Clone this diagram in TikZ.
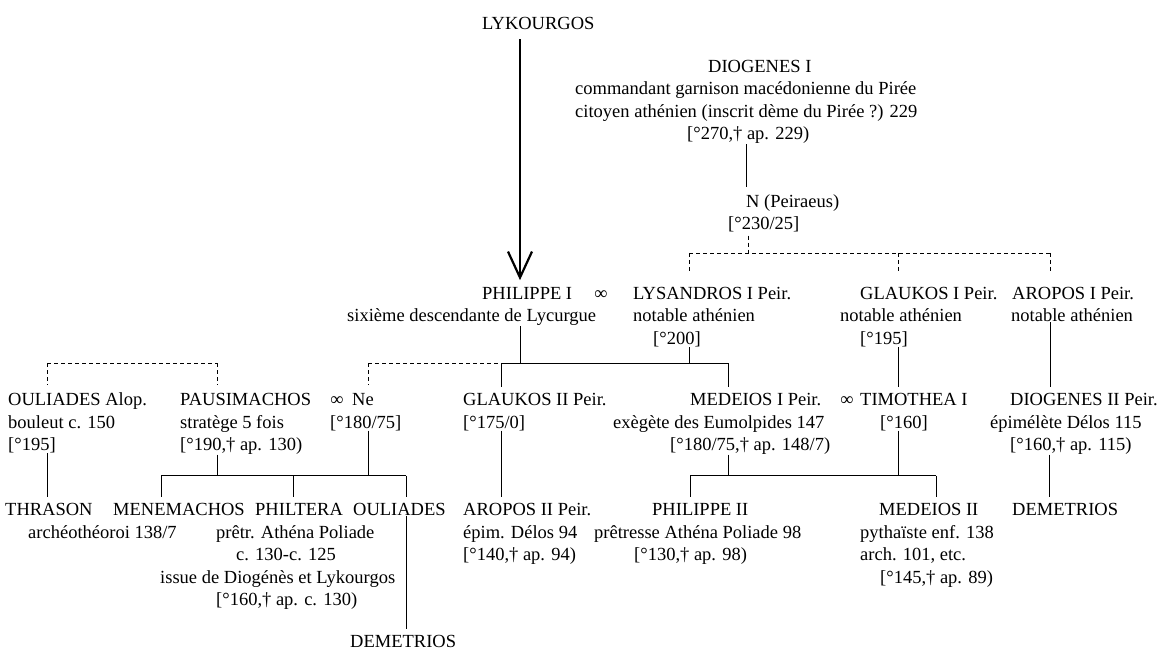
\documentclass[tikz,border=0pt]{standalone}
\usepackage{fontspec}
\setmainfont{Liberation Serif}
\usetikzlibrary{arrows.meta}
\begin{document}
\begin{tikzpicture}[x=1pt,y=-1pt,
  txt/.style={inner sep=0pt, anchor=base west, font=\fontsize{18.5}{22.5}\selectfont},
  lnk/.style={line width=0.9pt},
  dlnk/.style={line width=0.9pt, dash pattern=on 4pt off 3pt},
  down/.style={shorten >=6pt},
  bigarrow/.style={line width=2.6pt, -{Straight Barb[length=26pt,width=24pt,line width=2.2pt]}}
]
\useasboundingbox (0,0) rectangle (1159,652);
% axes and bars
\coordinate (axPh) at (520,0);
\coordinate (axN) at (746,0);
\coordinate (axNt) at (748,0);
\coordinate (axLy) at (689,0);
\coordinate (axGl) at (898,0);
\coordinate (axAr) at (1050,0);
\coordinate (axOu) at (47,0);
\coordinate (axPa) at (217,0);
\coordinate (axNe) at (368,0);
\coordinate (axGt) at (501,0);
\coordinate (axMe) at (728,0);
\coordinate (axTi) at (898,0);
\coordinate (axDt) at (1049,0);
\coordinate (axMn) at (161,0);
\coordinate (axPf) at (293,0);
\coordinate (axOl) at (406,0);
\coordinate (axPs) at (690,0);
\coordinate (axMs) at (936,0);
\coordinate (barTop) at (0,253);
\coordinate (barMid) at (0,363);
\coordinate (barLow) at (0,475.5);
% top
\node[txt] (lyk) at (482,29.5) {LYKOURGOS};
\node[txt] (dgA) at (708,72.5) {DIOGENES I};
\node[txt] (dgB) at (575,95) {commandant garnison macédonienne du Pirée};
\node[txt] (dgC) at (575,117.5) {citoyen athénien (inscrit dème du Pirée ?) 229};
\node[txt] (dgD) at (687,140) {[°270,† ap. 229)};
\node[txt] (nA) at (746,207.5) {N (Peiraeus)};
\node[txt] (nB) at (728,230) {[°230/25]};
% row 2
\node[txt] (phA) at (482,299.5) {PHILIPPE I};
\node[txt] (phB) at (347,322) {sixième descendante de Lycurgue};
\node[txt,anchor=base] (mar1) at (601,299.5) {∞};
\node[txt] (lyA) at (633,299.5) {LYSANDROS I Peir.};
\node[txt] (lyB) at (633,322) {notable athénien};
\node[txt] (lyC) at (653,344.5) {[°200]};
\node[txt] (glA) at (860,299.5) {GLAUKOS I Peir.};
\node[txt] (glB) at (840,322) {notable athénien};
\node[txt] (glC) at (860,344.5) {[°195]};
\node[txt] (arA) at (1012,299.5) {AROPOS I Peir.};
\node[txt] (arB) at (1011,322) {notable athénien};
% row 3
\node[txt] (ouA) at (8,405.5) {OULIADES Alop.};
\node[txt] (ouB) at (8,428) {bouleut c. 150};
\node[txt] (ouC) at (8,450.5) {[°195]};
\node[txt] (paA) at (180,405.5) {PAUSIMACHOS};
\node[txt] (paB) at (180,428) {stratège 5 fois};
\node[txt] (paC) at (180,450.5) {[°190,† ap. 130)};
\node[txt,anchor=base] (mar2) at (337,405.5) {∞};
\node[txt] (neA) at (352,405.5) {Ne};
\node[txt] (neB) at (330,428) {[°180/75]};
\node[txt] (gtA) at (463,405.5) {GLAUKOS II Peir.};
\node[txt] (gtB) at (463,428) {[°175/0]};
\node[txt] (meA) at (690,405.5) {MEDEIOS I Peir.};
\node[txt] (meB) at (613,428) {exègète des Eumolpides 147};
\node[txt] (meC) at (670,450.5) {[°180/75,† ap. 148/7)};
\node[txt,anchor=base] (mar3) at (847,405.5) {∞};
\node[txt] (tiA) at (860,405.5) {TIMOTHEA I};
\node[txt] (tiB) at (880,428) {[°160]};
\node[txt] (dtA) at (1010,405.5) {DIOGENES II Peir.};
\node[txt] (dtB) at (990,428) {épimélète Délos 115};
\node[txt] (dtC) at (1010,450.5) {[°160,† ap. 115)};
% row 4
\node[txt] (thA) at (5,515.5) {THRASON};
\node[txt] (thB) at (28,538) {archéothéoroi 138/7};
\node[txt] (mn) at (113,515.5) {MENEMACHOS};
\node[txt] (pfA) at (255,515.5) {PHILTERA};
\node[txt] (pfB) at (216,538) {prêtr. Athéna Poliade};
\node[txt] (pfC) at (236,560.5) {c. 130-c. 125};
\node[txt] (pfD) at (160,583) {issue de Diogénès et Lykourgos};
\node[txt] (pfE) at (216,605.5) {[°160,† ap. c. 130)};
\node[txt] (ol) at (353,515.5) {OULIADES};
\node[txt] (dmA) at (350,647) {DEMETRIOS};
\node[txt] (atA) at (463,515.5) {AROPOS II Peir.};
\node[txt] (atB) at (463,538) {épim. Délos 94};
\node[txt] (atC) at (463,560.5) {[°140,† ap. 94)};
\node[txt] (psA) at (652,515.5) {PHILIPPE II};
\node[txt] (psB) at (594,538) {prêtresse Athéna Poliade 98};
\node[txt] (psC) at (634,560.5) {[°130,† ap. 98)};
\node[txt] (msA) at (879,515.5) {MEDEIOS II};
\node[txt] (msB) at (860,538) {pythaïste enf. 138};
\node[txt] (msC) at (860,560.5) {arch. 101, etc.};
\node[txt] (msD) at (880,583) {[°145,† ap. 89)};
\node[txt] (dmB) at (1012,515.5) {DEMETRIOS};
% connectors
\draw[bigarrow, shorten <=9.5pt, shorten >=7pt] (lyk.south -| axPh) -- (phA.north -| axPh);
\draw[lnk, shorten >=7pt] (dgD.south -| axN) -- (nA.north -| axN);
\draw[dlnk, shorten <=3pt] (nB.south -| axNt) -- (axNt |- barTop);
\draw[dlnk] (axLy |- barTop) -- (axAr |- barTop);
\draw[dlnk, shorten >=15pt] (axLy |- barTop) -- (lyA.north -| axLy);
\draw[dlnk, shorten >=15pt] (axGl |- barTop) -- (glA.north -| axGl);
\draw[dlnk, shorten >=15pt] (axAr |- barTop) -- (arA.north -| axAr);
% row 2 to row 3
\draw[lnk] (phB.south -| axPh) -- (axPh |- barMid);
\draw[lnk] (lyC.south -| axLy) -- (axLy |- barMid);
\draw[lnk] (axGt |- barMid) -- (axMe |- barMid);
\draw[dlnk] (axNe |- barMid) -- (axGt |- barMid);
\draw[lnk, down] (axGt |- barMid) -- (gtA.north -| axGt);
\draw[lnk, down] (axMe |- barMid) -- (meA.north -| axMe);
\draw[dlnk, shorten >=8pt] (axNe |- barMid) -- (neA.north -| axNe);
\draw[dlnk] (axOu |- barMid) -- (axPa |- barMid);
\draw[dlnk, shorten >=8pt] (axOu |- barMid) -- (ouA.north -| axOu);
\draw[dlnk, shorten >=8pt] (axPa |- barMid) -- (paA.north -| axPa);
\draw[lnk, down] (glC.south -| axGl) -- (tiA.north -| axGl);
\draw[lnk, down] (arB.south -| axAr) -- (dtA.north -| axAr);
% row 3 to row 4
\draw[lnk, down] (ouC.south -| axOu) -- (thA.north -| axOu);
\draw[lnk] (paC.south -| axPa) -- (axPa |- barLow);
\draw[lnk] (neB.south -| axNe) -- (axNe |- barLow);
\draw[lnk] (axMn |- barLow) -- (axOl |- barLow);
\draw[lnk, down] (axMn |- barLow) -- (mn.north -| axMn);
\draw[lnk, down] (axPf |- barLow) -- (pfA.north -| axPf);
\draw[lnk, down] (axOl |- barLow) -- (ol.north -| axOl);
\draw[lnk, down] (ol.south -| axOl) -- (dmA.north -| axOl);
\draw[lnk, down] (gtB.south -| axGt) -- (atA.north -| axGt);
\draw[lnk] (meC.south -| axMe) -- (axMe |- barLow);
\draw[lnk] (tiB.south -| axTi) -- (axTi |- barLow);
\draw[lnk] (axPs |- barLow) -- (axMs |- barLow);
\draw[lnk, down] (axPs |- barLow) -- (psA.north -| axPs);
\draw[lnk, down] (axMs |- barLow) -- (msA.north -| axMs);
\draw[lnk, down] (dtC.south -| axDt) -- (dmB.north -| axDt);
\end{tikzpicture}
\end{document}
